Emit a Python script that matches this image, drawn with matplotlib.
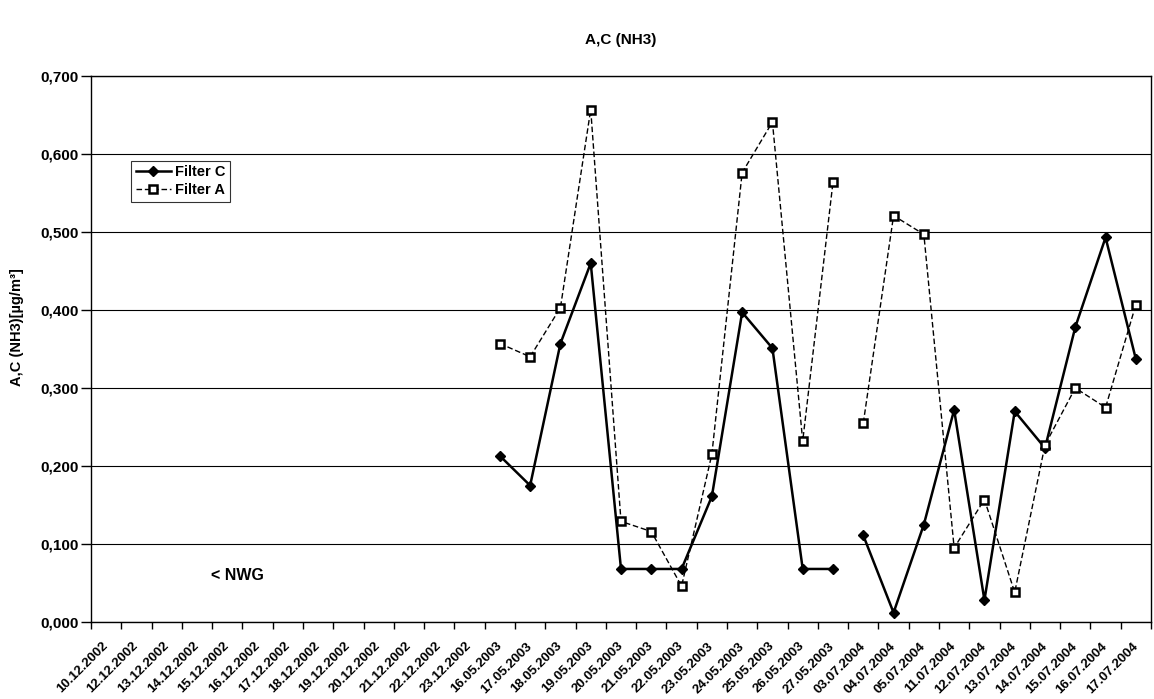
import numpy as np
import matplotlib
matplotlib.use("Agg")
import matplotlib.pyplot as plt
from matplotlib.ticker import FuncFormatter, FixedLocator

plt.rcParams['font.family'] = ['Liberation Sans', 'DejaVu Sans']
plt.rcParams['font.weight'] = 'bold'

# x-Achse: Messtage
dates = ["10.12.2002", "12.12.2002", "13.12.2002", "14.12.2002", "15.12.2002",
         "16.12.2002", "17.12.2002", "18.12.2002", "19.12.2002", "20.12.2002",
         "21.12.2002", "22.12.2002", "23.12.2002",
         "16.05.2003", "17.05.2003", "18.05.2003", "19.05.2003", "20.05.2003",
         "21.05.2003", "22.05.2003", "23.05.2003", "24.05.2003", "25.05.2003",
         "26.05.2003", "27.05.2003",
         "03.07.2004", "04.07.2004", "05.07.2004", "11.07.2004", "12.07.2004",
         "13.07.2004", "14.07.2004", "15.07.2004", "16.07.2004", "17.07.2004"]

# Messwerte Mai 2003 (16.05. - 27.05.)
filter_c_2003 = [0.213, 0.175, 0.357, 0.460, 0.068, 0.068, 0.068, 0.161, 0.397, 0.351, 0.068, 0.068]
filter_a_2003 = [0.357, 0.340, 0.403, 0.657, 0.129, 0.116, 0.046, 0.215, 0.576, 0.641, 0.232, 0.564]
# Messwerte Juli 2004 (03.07. - 17.07.)
filter_c_2004 = [0.111, 0.012, 0.125, 0.272, 0.028, 0.270, 0.223, 0.378, 0.493, 0.337]
filter_a_2004 = [0.255, 0.521, 0.497, 0.095, 0.157, 0.038, 0.227, 0.300, 0.275, 0.407]

yticks = [0.0, 0.1, 0.2, 0.3, 0.4, 0.5, 0.6, 0.7]

x = np.arange(len(dates))
x03 = x[dates.index("16.05.2003"):dates.index("27.05.2003") + 1]
x04 = x[dates.index("03.07.2004"):]

fig = plt.figure(figsize=(11.54, 6.99), dpi=100)
ax = fig.add_axes([91/1154, 1 - 622/699, (1151 - 91)/1154, (622 - 76)/699])

c_style = dict(color='black', lw=1.8, marker='D', ms=5, mfc='black', mec='black')
a_style = dict(color='black', lw=1.0, ls=(0, (4, 2)), marker='s', ms=6,
               mfc='white', mec='black', mew=1.8)

ax.plot(x03, filter_c_2003, label='Filter C', **c_style)
ax.plot(x04, filter_c_2004, **c_style)
ax.plot(x03, filter_a_2003, label='Filter A', **a_style)
ax.plot(x04, filter_a_2004, **a_style)

ax.set_xlim(-0.5, len(dates) - 0.5)
ax.set_ylim(0, 0.7)
ax.set_yticks(yticks)
ax.yaxis.set_major_formatter(FuncFormatter(lambda v, p: f"{v:.3f}".replace('.', ',')))
ax.grid(axis='y', color='black', lw=0.8)
ax.set_axisbelow(True)

ax.set_xticks(x)
ax.set_xticklabels(dates, rotation=45, ha='right', va='center', rotation_mode='anchor', fontsize=9.5)
ax.xaxis.set_minor_locator(FixedLocator(np.arange(-0.5, len(dates), 1.0)))
ax.tick_params(axis='x', which='major', length=0, pad=16)
ax.tick_params(axis='x', which='minor', length=5, direction='out', width=1)
ax.tick_params(axis='y', length=7, width=1, labelsize=11, pad=2)

for s in ax.spines.values():
    s.set_linewidth(1.0)

ax.text(3.45, 0.06, "< NWG", fontsize=11.5, fontweight='bold', va='center')

leg = ax.legend(loc='upper left', bbox_to_anchor=(0.038, 0.845), fontsize=10.5,
                frameon=True, fancybox=False, edgecolor='black', handlelength=2.4,
                borderpad=0.3, labelspacing=0.3, handletextpad=0.3, borderaxespad=0)
leg.get_frame().set_linewidth(0.8)

fig.text(621/1154, 1 - 40/699, "A,C (NH3)", ha='center', va='center', fontsize=11, fontweight='bold')
fig.text(17/1154, 1 - 327/699, "A,C (NH3)[µg/m³]", rotation=90, ha='center', va='center',
         fontsize=10.5, fontweight='bold')

fig.savefig("out.png", dpi=100)
